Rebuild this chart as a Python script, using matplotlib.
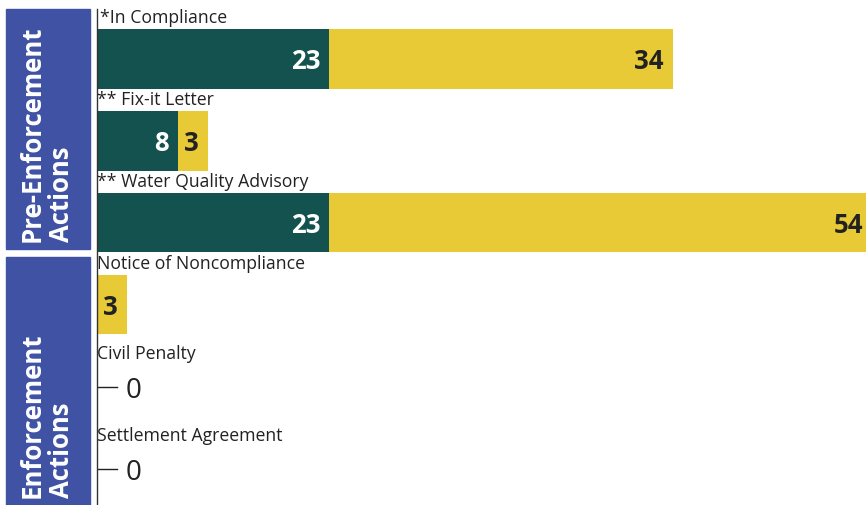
import matplotlib.pyplot as plt
from matplotlib.patches import Rectangle

# data
categories = ["*In Compliance", "** Fix-it Letter", "** Water Quality Advisory",
              "Notice of Noncompliance", "Civil Penalty", "Settlement Agreement"]
green_vals = [23, 8, 23, 0, 0, 0]
yellow_vals = [34, 3, 54, 3, 0, 0]
groups = ["Pre-Enforcement\nActions", "Enforcement\nActions"]

GREEN = "#13524F"
YELLOW = "#E8C936"
BLUE = "#3F52A4"
FONT = "Open Sans"

W, H = 866, 506
fig = plt.figure(figsize=(W / 100, H / 100), dpi=100)
ax = fig.add_axes([97 / W, 0, 1 - 97 / W, 1 - 10 / H])

xmax = 76.1
ax.set_xlim(0, xmax)
ax.set_ylim(5.44, -0.61)

ypos = list(range(len(categories)))
ax.barh(ypos, green_vals, height=0.72, color=GREEN)
ax.barh(ypos, yellow_vals, left=green_vals, height=0.72, color=YELLOW)

for i, cat in enumerate(categories):
    g, yv = green_vals[i], yellow_vals[i]
    off = 0.40 if g + yv > 0 else 0.30
    ax.text(0.25 if i == 0 else 0.0, i - off, cat, ha="left", va="bottom",
            fontsize=12.7, family=FONT, color="#222222")
    if g > 0:
        ax.text(g - 0.9, i + 0.02, str(g), ha="right", va="center",
                fontsize=18.5, fontweight="bold", family=FONT, color="white")
    if yv > 0:
        end = min(g + yv, xmax + 0.6)
        ax.text(end - 0.9, i + 0.02, str(yv), ha="right", va="center",
                fontsize=18.5, fontweight="bold", family=FONT, color="#222222")
    if g + yv == 0:
        ax.plot([0, 2.0], [i, i], color="#222222", lw=1.0)
        ax.text(2.8, i + 0.04, "0", ha="left", va="center", fontsize=20,
                family=FONT, color="#222222")

for s in ["top", "right", "bottom"]:
    ax.spines[s].set_visible(False)
ax.spines["left"].set_color("#333333")
ax.spines["left"].set_linewidth(1.0)
ax.set_xticks([])
ax.set_yticks([])

# group boxes on the left
boxes = [(10, 250), (258, 506)]
for (y0, y1), label in zip(boxes, groups):
    fig.patches.append(Rectangle((6 / W, 1 - y1 / H), 84 / W, (y1 - y0) / H,
                                 transform=fig.transFigure, color=BLUE))
    fig.text(47 / W, 1 - (y1 - 8) / H, label, rotation=90, ha="center",
             va="bottom", color="white", fontsize=18.5, fontweight="bold",
             family=FONT, linespacing=1.1, multialignment="left")

fig.savefig("out.png", dpi=100)
